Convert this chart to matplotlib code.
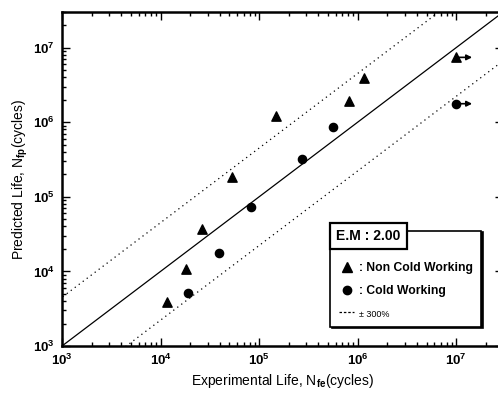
import numpy as np
import matplotlib.pyplot as plt
from matplotlib.lines import Line2D
from matplotlib.ticker import FixedLocator, FuncFormatter, LogLocator, NullFormatter

plt.rcParams["font.family"] = "Liberation Sans"
plt.rcParams["mathtext.fontset"] = "custom"
plt.rcParams["mathtext.rm"] = "Liberation Sans"
plt.rcParams["mathtext.bf"] = "Liberation Sans:bold"

# Non cold working (triangles)
nc_exp = [1.16e4, 1.8e4, 2.66e4, 5.35e4, 1.49e5, 8.26e5, 1.15e6]
nc_pred = [3.9e3, 1.07e4, 3.76e4, 1.84e5, 1.23e6, 1.91e6, 3.88e6]
# Cold working (circles)
cw_exp = [1.91e4, 3.95e4, 8.3e4, 2.71e5, 5.6e5]
cw_pred = [5.1e3, 1.79e4, 7.2e4, 3.17e5, 8.5e5]
# run-outs (arrows)
nc_runout_exp = [1.0e7]
nc_runout_pred = [7.4e6]
cw_runout_exp = [1.0e7]
cw_runout_pred = [1.77e6]

band = 4.5
lims = (1e3, 3e7)

fig = plt.figure(figsize=(4.98, 3.94), dpi=100)
ax = fig.add_axes([0.1245, 0.1218, 0.886, 0.8477])
ax.set_xscale("log")
ax.set_yscale("log")
ax.set_xlim(lims)
ax.set_ylim(lims)

xx = np.array([1e2, 1e8])
ax.plot(xx, xx, color="black", lw=0.9)
ax.plot(xx, xx * band, color="black", lw=0.9, ls=(0, (1, 3)))
ax.plot(xx, xx / band, color="black", lw=0.9, ls=(0, (1, 3)))

ax.scatter(nc_exp + nc_runout_exp, nc_pred + nc_runout_pred, marker="^", s=45,
           color="black", zorder=3)
ax.scatter(cw_exp + cw_runout_exp, cw_pred + cw_runout_pred, marker="o", s=35,
           color="black", zorder=3)
for x, y in zip(nc_runout_exp + cw_runout_exp, nc_runout_pred + cw_runout_pred):
    ax.annotate("", xy=(x * 1.45, y), xytext=(x, y),
                arrowprops=dict(arrowstyle="-|>", color="black", lw=1.2,
                                mutation_scale=8, shrinkA=0, shrinkB=0))

# spines and ticks
for sp in ax.spines.values():
    sp.set_linewidth(1.8)
ax.tick_params(which="both", direction="in", top=True, right=True, width=1)
ax.tick_params(which="major", length=6)
ax.tick_params(which="minor", length=3)
majors = [1e3, 1e4, 1e5, 1e6, 1e7]
fmt = FuncFormatter(lambda v, p: r"$\mathbf{10^{%d}}$" % round(np.log10(v)))
for axis in (ax.xaxis, ax.yaxis):
    axis.set_major_locator(FixedLocator(majors))
    axis.set_major_formatter(fmt)
    axis.set_minor_locator(LogLocator(base=10, subs=np.arange(2, 10)))
    axis.set_minor_formatter(NullFormatter())
ax.tick_params(labelsize=9.5, pad=5)

ax.set_xlabel(r"Experimental Life, N$_{\mathbf{fe}}$(cycles)", fontsize=10, labelpad=3)
ax.set_ylabel(r"Predicted Life, N$_{\mathbf{fp}}$(cycles)", fontsize=10, labelpad=2)

# legend
handles = [
    Line2D([], [], marker="^", color="black", ls="none", markersize=7),
    Line2D([], [], marker="o", color="black", ls="none", markersize=6),
    Line2D([], [], color="black", ls=(0, (2, 1.5)), lw=0.9),
]
labels = [": Non Cold Working", ": Cold Working", "\u00b1 300%"]
leg = ax.legend(handles, labels, loc="lower left", bbox_to_anchor=(0.608, 0.057),
                fontsize=8.7, frameon=True, fancybox=False, edgecolor="black",
                shadow={"color": "black", "alpha": 1, "ox": 1, "oy": -1},
                handlelength=1.3, handletextpad=0.35, borderpad=0.7,
                labelspacing=0.9, borderaxespad=0,
                title=" ", title_fontsize=9.5)
leg.get_frame().set_linewidth(1.2)
leg.get_frame().set_alpha(1)
leg.get_texts()[2].set_fontsize(6.5)
leg.set_zorder(5)
for t in leg.get_texts()[:2]:
    t.set_fontweight("bold")

ax.text(0.622, 0.33, "E.M : 2.00", transform=ax.transAxes, fontsize=10,
        fontweight="bold", va="center", ha="left", zorder=10,
        bbox=dict(boxstyle="square,pad=0.45", fc="white", ec="black", lw=1.6))

fig.savefig("out.png", dpi=100)
